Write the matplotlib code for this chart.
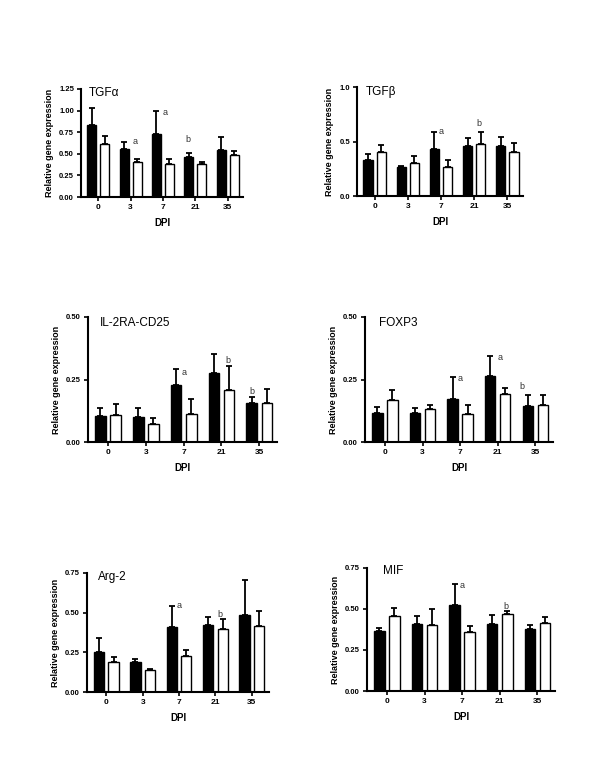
import numpy as np
import matplotlib.pyplot as plt

plt.rcParams['font.family'] = ['Liberation Sans', 'DejaVu Sans']

dpi_labels = ["0", "3", "7", "21", "35"]

# TGF alpha
tgfa_black = [0.83, 0.55, 0.73, 0.46, 0.54]
tgfa_black_err = [0.20, 0.09, 0.27, 0.05, 0.15]
tgfa_white = [0.61, 0.40, 0.38, 0.38, 0.485]
tgfa_white_err = [0.10, 0.04, 0.06, 0.03, 0.05]

# TGF beta
tgfb_black = [0.33, 0.263, 0.43, 0.455, 0.455]
tgfb_black_err = [0.06, 0.015, 0.155, 0.08, 0.085]
tgfb_white = [0.40, 0.30, 0.27, 0.477, 0.40]
tgfb_white_err = [0.07, 0.07, 0.057, 0.11, 0.09]

# IL-2RA-CD25
il2_black = [0.103, 0.10, 0.228, 0.276, 0.158]
il2_black_err = [0.034, 0.035, 0.066, 0.077, 0.022]
il2_white = [0.11, 0.071, 0.114, 0.209, 0.155]
il2_white_err = [0.043, 0.027, 0.058, 0.095, 0.059]

# FOXP3
foxp3_black = [0.117, 0.115, 0.172, 0.265, 0.144]
foxp3_black_err = [0.022, 0.02, 0.087, 0.08, 0.045]
foxp3_white = [0.167, 0.131, 0.112, 0.193, 0.15]
foxp3_white_err = [0.043, 0.017, 0.038, 0.023, 0.039]

# Arg-2
arg2_black = [0.25, 0.189, 0.407, 0.422, 0.487]
arg2_black_err = [0.09, 0.021, 0.136, 0.053, 0.221]
arg2_white = [0.189, 0.137, 0.227, 0.395, 0.418]
arg2_white_err = [0.031, 0.01, 0.036, 0.063, 0.092]

# MIF
mif_black = [0.365, 0.41, 0.523, 0.407, 0.377]
mif_black_err = [0.02, 0.047, 0.132, 0.056, 0.028]
mif_white = [0.457, 0.405, 0.36, 0.47, 0.413]
mif_white_err = [0.048, 0.095, 0.037, 0.018, 0.04]

# significance letters: (x in group units, baseline y, letter)
tgfa_sig = [(1.13, 0.61, "a"), (2.07, 0.946, "a"), (2.76, 0.635, "b")]
tgfb_sig = [(1.99, 0.569, "a"), (3.14, 0.642, "b")]
il2_sig = [(2.01, 0.267, "a"), (3.16, 0.316, "b"), (3.8, 0.192, "b")]
foxp3_sig = [(2.01, 0.243, "a"), (3.07, 0.33, "a"), (3.65, 0.214, "b")]
arg2_sig = [(2.0, 0.527, "a"), (3.12, 0.473, "b")]
mif_sig = [(2.0, 0.628, "a"), (3.17, 0.498, "b")]

panels = [
    ("TGF\u03b1", tgfa_black, tgfa_black_err, tgfa_white, tgfa_white_err, tgfa_sig,
     [0.135, 0.7474, 0.27, 0.1385], 1.25, [0, 0.25, 0.5, 0.75, 1.0, 1.25], "%.2f", (0.045, 0.96)),
    ("TGF\u03b2", tgfb_black, tgfb_black_err, tgfb_white, tgfb_white_err, tgfb_sig,
     [0.595, 0.7487, 0.2767, 0.1397], 1.0, [0, 0.5, 1.0], "%.1f", (0.05, 0.955)),
    ("IL-2RA-CD25", il2_black, il2_black_err, il2_white, il2_white_err, il2_sig,
     [0.1467, 0.4333, 0.315, 0.1603], 0.5, [0, 0.25, 0.5], "%.2f", (0.063, 0.95)),
    ("FOXP3", foxp3_black, foxp3_black_err, foxp3_white, foxp3_white_err, foxp3_sig,
     [0.6083, 0.4333, 0.3133, 0.1603], 0.5, [0, 0.25, 0.5], "%.2f", (0.074, 0.95)),
    ("Arg-2", arg2_black, arg2_black_err, arg2_white, arg2_white_err, arg2_sig,
     [0.145, 0.1128, 0.3033, 0.1526], 0.75, [0, 0.25, 0.5, 0.75], "%.2f", (0.06, 0.97)),
    ("MIF", mif_black, mif_black_err, mif_white, mif_white_err, mif_sig,
     [0.6117, 0.1141, 0.3133, 0.1577], 0.75, [0, 0.25, 0.5, 0.75], "%.2f", (0.085, 0.975)),
]

fig = plt.figure(figsize=(6, 7.8), dpi=100)
x = np.arange(len(dpi_labels))
w = 0.28
off = 0.2

for (title, blk, blk_e, wht, wht_e, sig, rect, ymax, yt, fmt, tpos) in panels:
    ax = fig.add_axes(rect)
    ekw = dict(elinewidth=1.3, capthick=1.3, capsize=2.5, ecolor="black")
    ax.bar(x - off, blk, w, color="black", edgecolor="black", linewidth=1.0,
           yerr=[np.zeros(5), blk_e], error_kw=ekw, zorder=2)
    ax.bar(x + off, wht, w, color="white", edgecolor="black", linewidth=1.0,
           yerr=[np.zeros(5), wht_e], error_kw=ekw, zorder=2)
    for xx, yy, letter in sig:
        ax.text(xx, yy, letter, fontsize=6.5, color="#333333",
                ha="center", va="baseline")
    ax.text(tpos[0], tpos[1], title, transform=ax.transAxes, fontsize=8.5,
            ha="left", va="center")
    ax.set_xlim(-0.53, 4.47)
    ax.set_ylim(0, ymax)
    ax.set_yticks(yt)
    ax.set_yticklabels([fmt % v for v in yt], fontsize=5.5, fontweight="bold")
    ax.set_xticks(x)
    ax.set_xticklabels(dpi_labels, fontsize=6, fontweight="bold")
    ax.set_xlabel("DPI", fontsize=7, fontweight="bold", labelpad=5)
    ax.set_ylabel("Relative gene expression", fontsize=6.5, fontweight="bold")
    for s in ["top", "right"]:
        ax.spines[s].set_visible(False)
    for s in ["left", "bottom"]:
        ax.spines[s].set_linewidth(1.5)
    ax.tick_params(width=1.2, length=3, pad=2)

fig.savefig("out.png", dpi=100)
